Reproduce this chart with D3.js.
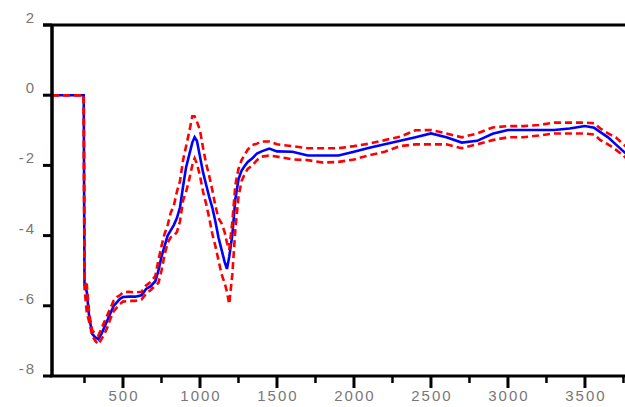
<!DOCTYPE html>
<html>
<head>
<meta charset="utf-8">
<script src="https://cdn.jsdelivr.net/npm/d3@7"></script>
<style>
  body { margin: 0; background: #fff; }
  svg { display: block; }
  .lbl { font-family: "Liberation Sans", Arial, sans-serif; font-size: 15px; fill: #777; letter-spacing: 2px; }
</style>
</head>
<body>
<script>
// chart size, same as the window
var width = 625;
var height = 407;

// x positions of the samples
var xs = [39, 245, 250, 265, 280, 300, 320, 340, 360, 380, 400, 420, 440, 460, 480, 500,
  540, 580, 620, 650, 680, 710, 730, 750, 770, 790, 810, 830, 850, 870, 890, 910, 930,
  950, 965, 980, 1000, 1020, 1040, 1060, 1080, 1100, 1120, 1140, 1160, 1175, 1190, 1210,
  1230, 1250, 1270, 1290, 1310, 1340, 1370, 1400, 1450, 1500, 1600, 1700, 1800, 1900,
  2000, 2100, 2200, 2300, 2400, 2500, 2600, 2700, 2800, 2900, 3000, 3100, 3200, 3300,
  3400, 3500, 3560, 3600, 3650, 3700, 3750, 3800];

// blue middle line
var center = [0, 0, -5.4, -5.6, -6.3, -6.8, -6.9, -6.95, -6.8, -6.6, -6.4, -6.2, -6.0, -5.9, -5.8, -5.75,
  -5.74, -5.74, -5.7, -5.52, -5.44, -5.3, -5.0, -4.6, -4.3, -4.0, -3.85, -3.7, -3.5, -3.2, -2.6, -2.05, -1.7,
  -1.35, -1.2, -1.3, -1.75, -2.2, -2.55, -2.9, -3.2, -3.6, -4.05, -4.4, -4.75, -4.95, -4.6, -3.98,
  -2.95, -2.4, -2.15, -2.02, -1.9, -1.8, -1.66, -1.6, -1.52, -1.6, -1.61, -1.72, -1.72, -1.72,
  -1.61, -1.5, -1.4, -1.3, -1.2, -1.09, -1.2, -1.35, -1.3, -1.1, -0.99, -0.99, -0.99, -0.99,
  -0.95, -0.88, -0.93, -1.05, -1.2, -1.4, -1.6, -1.8];

// red dashed upper line
var upper = [0, 0, -5.3, -5.4, -6.2, -6.7, -6.8, -6.85, -6.65, -6.45, -6.25, -6.05, -5.85, -5.75, -5.7, -5.62,
  -5.6, -5.62, -5.6, -5.42, -5.32, -5.15, -4.7, -4.3, -3.95, -3.7, -3.35, -3.15, -2.75, -2.45, -1.85, -1.45, -1.05,
  -0.6, -0.6, -0.75, -1.0, -1.5, -1.95, -2.3, -2.7, -3.15, -3.5, -3.65, -3.9, -4.2, -4.4, -3.6,
  -2.55, -2.1, -1.85, -1.7, -1.55, -1.42, -1.38, -1.32, -1.32, -1.4, -1.45, -1.51, -1.51, -1.51,
  -1.45, -1.38, -1.28, -1.18, -1.0, -0.99, -1.09, -1.2, -1.09, -0.92, -0.88, -0.88, -0.85, -0.78,
  -0.78, -0.78, -0.8, -0.95, -1.09, -1.2, -1.4, -1.6];

// red dashed lower line
var lower = [0, 0, -5.5, -6.2, -6.45, -6.85, -7.0, -7.1, -6.95, -6.8, -6.6, -6.35, -6.15, -6.05, -5.95, -5.88,
  -5.86, -5.86, -5.82, -5.66, -5.55, -5.42, -5.35, -5.0, -4.55, -4.2, -4.05, -4.0, -3.9, -3.6, -3.0, -2.75, -2.4,
  -2.0, -1.8, -1.95, -2.3, -2.75, -3.1, -3.5, -3.95, -4.3, -4.7, -5.1, -5.35, -5.6, -5.95, -5.1,
  -3.8, -2.9, -2.45, -2.25, -2.1, -2.0, -1.85, -1.75, -1.72, -1.75, -1.83, -1.85, -1.92, -1.9,
  -1.83, -1.71, -1.61, -1.45, -1.4, -1.4, -1.4, -1.51, -1.4, -1.28, -1.2, -1.2, -1.15, -1.09,
  -1.09, -1.09, -1.12, -1.28, -1.4, -1.55, -1.72, -1.95];

// axis ticks
var yTicks = [-8, -6, -4, -2, 0, 2];
var xTicks = [500, 1000, 1500, 2000, 2500, 3000, 3500];
var xMinor = [250, 750, 1250, 1750, 2250, 2750, 3250, 3750];

var svg = d3.select('body').append('svg')
  .attr('width', width)
  .attr('height', height);

var x = d3.scaleLinear().domain([39, 3760]).range([52, 625]);
var y = d3.scaleLinear().domain([-8, 2]).range([376, 25]);

// lines
var line = function(vals) {
  return d3.line()
    .x(function(d, i) { return x(xs[i]); })
    .y(function(d) { return y(d); })(vals);
};

svg.append('path')
  .attr('d', line(center))
  .attr('fill', 'none')
  .attr('stroke', '#0000ff')
  .attr('stroke-width', 2.6);

[upper, lower].forEach(function(vals) {
  svg.append('path')
    .attr('d', line(vals))
    .attr('fill', 'none')
    .attr('stroke', '#ff0000')
    .attr('stroke-width', 2.6)
    .attr('stroke-dasharray', '7,4');
});

// frame: left axis, bottom axis, top line
svg.append('line').attr('x1', 52).attr('x2', 52).attr('y1', 24).attr('y2', 377)
  .attr('stroke', '#000').attr('stroke-width', 3.5);
svg.append('line').attr('x1', 50).attr('x2', width).attr('y1', 376).attr('y2', 376)
  .attr('stroke', '#000').attr('stroke-width', 3);
svg.append('line').attr('x1', 43).attr('x2', width).attr('y1', 25).attr('y2', 25)
  .attr('stroke', '#000').attr('stroke-width', 3);

// y ticks and labels
svg.selectAll('.ytick').data(yTicks).enter().append('line')
  .attr('x1', 43).attr('x2', 52)
  .attr('y1', function(d) { return y(d); })
  .attr('y2', function(d) { return y(d); })
  .attr('stroke', '#000').attr('stroke-width', 3);

svg.selectAll('.ylbl').data(yTicks).enter().append('text')
  .attr('class', 'lbl')
  .attr('x', 36)
  .attr('y', function(d) { return y(d) - 2; })
  .attr('text-anchor', 'end')
  .text(function(d) { return d; });

// x ticks and labels
svg.selectAll('.xtick').data(xTicks).enter().append('line')
  .attr('x1', function(d) { return x(d); })
  .attr('x2', function(d) { return x(d); })
  .attr('y1', 376).attr('y2', 388)
  .attr('stroke', '#000').attr('stroke-width', 3);

svg.selectAll('.xminor').data(xMinor).enter().append('line')
  .attr('x1', function(d) { return x(d); })
  .attr('x2', function(d) { return x(d); })
  .attr('y1', 376).attr('y2', 383)
  .attr('stroke', '#000').attr('stroke-width', 2.5);

svg.selectAll('.xlbl').data(xTicks).enter().append('text')
  .attr('class', 'lbl')
  .attr('x', function(d) { return x(d) + 1; })
  .attr('y', 401)
  .attr('text-anchor', 'middle')
  .text(function(d) { return d; });
</script>
</body>
</html>
